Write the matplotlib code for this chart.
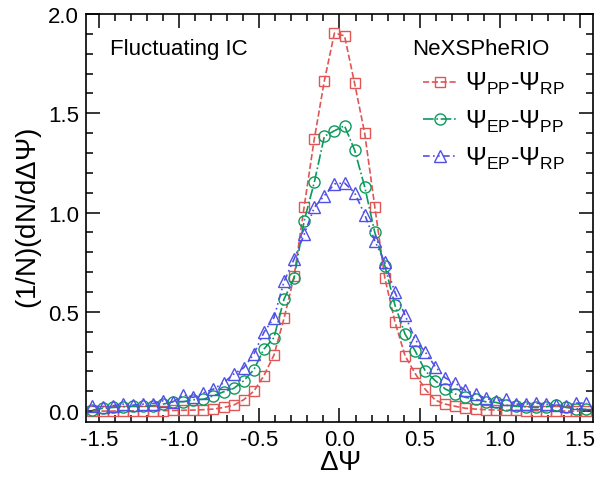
import numpy as np
import matplotlib
matplotlib.use("Agg")
from matplotlib import pyplot as plt

# ==========================================================
# data: 50 bins over [-pi/2, pi/2]
# ==========================================================
nbins = 50
bin_w = np.pi / nbins
dpsi = -np.pi / 2 + (np.arange(nbins) + 0.5) * bin_w

# values, left half given from centre outwards
pp_rp_left = [1.904, 1.664, 1.37, 1.03, 0.679, 0.467, 0.282, 0.178, 0.100, 0.057,
              0.030, 0.018, 0.010, 0.007, 0.005, 0.004, 0.003, 0.002, 0.002, 0.001,
              0.001, 0.001, 0.0, 0.0, 0.0]
pp_rp_right = [1.89, 1.651, 1.40, 1.03, 0.670, 0.45, 0.279, 0.19, 0.11, 0.055,
               0.035, 0.024, 0.014, 0.010, 0.007, 0.005, 0.004, 0.003, 0.002, 0.002,
               0.001, 0.001, 0.0, 0.0, 0.0]

ep_pp_left = [1.412, 1.384, 1.152, 0.959, 0.67, 0.564, 0.37, 0.312, 0.208, 0.153,
              0.114, 0.097, 0.077, 0.060, 0.057, 0.047, 0.047, 0.035, 0.027, 0.024,
              0.024, 0.022, 0.018, 0.014, 0.005]
ep_pp_right = [1.437, 1.315, 1.13, 0.90, 0.732, 0.534, 0.388, 0.304, 0.203, 0.153,
               0.111, 0.086, 0.069, 0.060, 0.047, 0.044, 0.030, 0.024, 0.022, 0.018,
               0.022, 0.030, 0.018, 0.012, 0.008]

ep_rp_left = [1.144, 1.085, 1.026, 0.89, 0.766, 0.653, 0.47, 0.396, 0.287, 0.218,
              0.186, 0.142, 0.111, 0.091, 0.069, 0.081, 0.047, 0.052, 0.038, 0.035,
              0.030, 0.035, 0.027, 0.022, 0.025]
ep_rp_right = [1.149, 1.10, 0.99, 0.858, 0.749, 0.598, 0.484, 0.36, 0.298, 0.224,
               0.167, 0.14, 0.104, 0.086, 0.064, 0.052, 0.060, 0.035, 0.035, 0.04,
               0.035, 0.03, 0.028, 0.04, 0.04]

pp_rp = np.array(pp_rp_left[::-1] + pp_rp_right)
ep_pp = np.array(ep_pp_left[::-1] + ep_pp_right)
ep_rp = np.array(ep_rp_left[::-1] + ep_rp_right)

labels = [r"$\Psi_{\rm PP}$-$\Psi_{\rm RP}$",
          r"$\Psi_{\rm EP}$-$\Psi_{\rm PP}$",
          r"$\Psi_{\rm EP}$-$\Psi_{\rm RP}$"]

# ==========================================================
# style
# ==========================================================
plt.rcParams["font.family"] = ["Liberation Sans", "DejaVu Sans"]
plt.rcParams["mathtext.fontset"] = "custom"
plt.rcParams["mathtext.rm"] = "Liberation Sans"
plt.rcParams["mathtext.it"] = "Liberation Sans:italic"
plt.rcParams["axes.unicode_minus"] = False

red = "#e05555"
green = "#0a9a5c"
blue = "#5050e6"

fig = plt.figure(figsize=(6.0, 4.81), dpi=100)
ax = fig.add_axes([0.1433, 0.1206, 0.8450, 0.8482])

ax.plot(dpsi, pp_rp, ls="--", color=red, lw=1.2, marker="s", ms=7,
        mfc="none", mec=red, mew=1.0, label=labels[0])
ax.plot(dpsi, ep_pp, ls="-.", color=green, lw=1.2, marker="o", ms=8,
        mfc="none", mec=green, mew=1.0, label=labels[1])
ax.plot(dpsi, ep_rp, ls=(0, (4, 2, 1, 2, 1, 2)), color=blue, lw=1.2, marker="^", ms=8,
        mfc="none", mec=blue, mew=1.0, label=labels[2])

ax.set_xlim(-1.58, 1.58)
ax.set_ylim(-0.055, 2.0)
ax.set_xticks([-1.5, -1.0, -0.5, 0.0, 0.5, 1.0, 1.5])
ax.set_xticks(np.arange(-1.5, 1.51, 0.1), minor=True)
ax.set_yticks([0.0, 0.5, 1.0, 1.5, 2.0])
ax.set_yticks(np.arange(0.0, 2.01, 0.1), minor=True)
ax.xaxis.set_major_formatter(matplotlib.ticker.FormatStrFormatter("%.1f"))
ax.yaxis.set_major_formatter(matplotlib.ticker.FormatStrFormatter("%.1f"))
ax.tick_params(which="both", direction="in", top=True, right=True, width=1.1, labelsize=16)
ax.tick_params(which="major", length=10, pad=5)
ax.tick_params(which="minor", length=5)
for s in ax.spines.values():
    s.set_linewidth(1.2)

ax.set_xlabel(r"$\Delta\Psi$", fontsize=20, labelpad=-1)
ax.set_ylabel(r"(1/N)(dN/d$\Delta\Psi$)", fontsize=20, labelpad=3)

ax.text(0.047, 0.915, "Fluctuating IC", transform=ax.transAxes, fontsize=16, va="center")
ax.text(0.643, 0.915, "NeXSPheRIO", transform=ax.transAxes, fontsize=16, va="center")

ax.legend(loc="upper left", bbox_to_anchor=(0.63, 0.905), frameon=False, fontsize=18,
          handlelength=1.4, handletextpad=0.3, labelspacing=0.45, borderpad=0.2)

fig.savefig("out.png", dpi=100)
